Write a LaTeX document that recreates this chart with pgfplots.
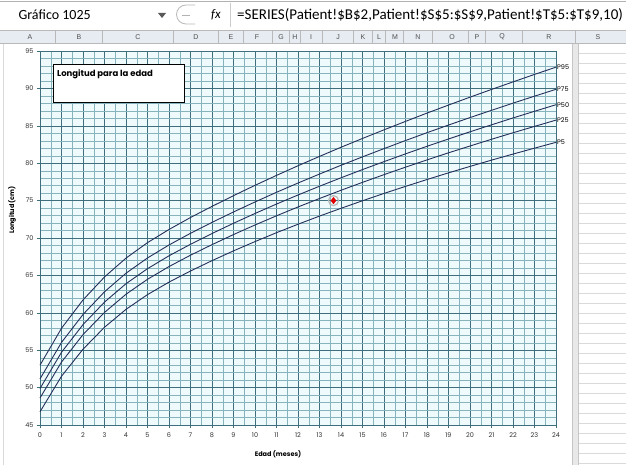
\documentclass[border=0pt]{standalone}
\usepackage{pgfplots}
\usepackage{pgfplotstable}
\pgfplotsset{compat=1.18}
\usepackage{fontspec}
\setmainfont{Poppins}
\newfontfamily\uifont{Carlito}
\newfontfamily\hdrfont{Liberation Sans}
\definecolor{bgc}{HTML}{EEFAFC}
\definecolor{gmaj}{HTML}{3F6F7D}
\definecolor{gmin}{HTML}{86B3BC}
\definecolor{curve}{HTML}{25305A}
\definecolor{hdrbg}{HTML}{E6ECF2}
\definecolor{hdrtx}{HTML}{505050}
\definecolor{sheet}{HTML}{DADADA}

\pgfplotstableread{
m p5 p25 p50 p75 p95
0 46.77 48.61 49.88 51.16 53.00
1 51.52 53.41 54.72 56.04 57.93
2 55.13 57.08 58.42 59.77 61.72
3 58.07 60.05 61.43 62.81 64.79
4 60.46 62.48 63.89 65.29 67.31
5 62.43 64.48 65.90 67.33 69.38
6 64.10 66.18 67.62 69.07 71.14
7 65.59 67.70 69.16 70.63 72.74
8 66.97 69.11 70.60 72.09 74.23
9 68.28 70.46 71.97 73.48 75.66
10 69.52 71.74 73.28 74.82 77.04
11 70.71 72.97 74.54 76.11 78.37
12 71.84 74.15 75.75 77.35 79.66
13 72.93 75.28 76.92 78.55 80.91
14 73.97 76.38 78.05 79.72 82.13
15 74.98 77.44 79.15 80.85 83.31
16 75.96 78.47 80.21 81.95 84.46
17 76.90 79.47 81.25 83.03 85.59
18 77.82 80.44 82.26 84.08 86.70
19 78.71 81.39 83.24 85.10 87.77
20 79.57 82.30 84.20 86.10 88.83
21 80.41 83.20 85.13 87.07 89.86
22 81.22 84.07 86.05 88.03 90.87
23 82.01 84.92 86.94 88.96 91.87
24 82.79 85.76 87.82 89.88 92.84
}\who

\begin{document}
\begin{tikzpicture}[x=1pt,y=1pt]
\useasboundingbox (0,0) rectangle (626,-465);
\fill[white] (0,0) rectangle (626,-465);
% ---- formula bar ----
\draw[gray!60] (0,-1) -- (626,-1);
\node[anchor=west,font=\uifont\fontsize{14}{16}\selectfont] at (15,-15) {Gráfico 1025};
\fill[gray!70!black] (158,-13) -- (166,-13) -- (162,-18) -- cycle;
\draw[gray!55, line width=0.8pt] (195,-5) -- (186,-5) arc (90:270:9.5) -- (195,-24);
\draw[gray!60] (182,-15) -- (190,-15);
\node[font=\uifont\itshape\fontsize{13}{15}\selectfont] at (216,-15) {fx};
\draw[gray!40] (230,-3) -- (230,-27);
\node[anchor=west,font=\uifont\fontsize{15}{17}\selectfont,inner sep=0pt] at (237,-15) {=SERIES(Patient!\$B\$2,Patient!\$S\$5:\$S\$9,Patient!\$T\$5:\$T\$9,10)};
% ---- column headers ----
\fill[hdrbg] (0,-30) rectangle (626,-43);
\draw[gray!55] (0,-30) -- (626,-30);
\draw[gray!55] (0,-43) -- (626,-43);
\foreach \sx in {55,102,173,218,243,272,289,300,322,353,372,385,403,432,468,485,522,575}
  \draw[gray!55] (\sx,-30) -- (\sx,-43);
\foreach \lx/\lt in {30/A,79/B,138/C,196/D,231/E,257/F,281/G,295/H,311/I,338/J,363/K,379/L,395/M,418/N,452/O,477/P,502/Q,549/R,598/S}
  \node[font=\hdrfont\fontsize{7}{8}\selectfont, text=hdrtx] at (\lx,-36.8) {\lt};
% ---- sheet on the right ----
\foreach \yy in {53,63,...,463}
  \draw[sheet,line width=0.5pt] (578,-\yy) -- (626,-\yy);
\fill[gray!18] (572,-44) rectangle (578,-465);
\draw[gray!45] (572,-44) -- (572,-465);
\draw[gray!45] (578,-44) -- (578,-465);
\draw[gray!30] (3,-44) -- (3,-465);
% ---- chart ----
\begin{axis}[
  at={(40pt,-425pt)}, anchor=south west,
  scale only axis, width=516pt, height=374pt,
  xmin=0, xmax=24, ymin=45, ymax=95,
  xtick={0,1,...,24}, ytick={45,50,...,95},
  minor x tick num=1, minor y tick num=4,
  grid=both,
  major grid style={gmaj, line width=0.6pt},
  minor grid style={gmin, line width=0.35pt},
  axis background/.style={fill=bgc},
  axis line style={gmaj, line width=0.7pt},
  tick align=outside, tick pos=left,
  major tick length=3pt, minor tick length=0pt,
  tick style={gmaj, line width=0.6pt},
  ticklabel style={font=\fontsize{6.5}{8}\selectfont, text=black!80},
  xticklabel style={yshift=-1pt},
  /pgf/number format/assume math mode=true,
  clip=false,
]
\addplot[curve, line width=0.9pt] table[x=m, y=p5] {\who};
\addplot[curve, line width=0.9pt] table[x=m, y=p25] {\who};
\addplot[curve, line width=0.9pt] table[x=m, y=p50] {\who};
\addplot[curve, line width=0.9pt] table[x=m, y=p75] {\who};
\addplot[curve, line width=0.9pt] table[x=m, y=p95] {\who};
\addplot[only marks, mark=o, mark size=5pt, color=gray!55, line width=1.2pt] coordinates {(13.65,75.0)};
\addplot[only marks, mark=diamond*, mark size=3.3pt, color=red!90!black] coordinates {(13.65,75.0)};
\node[anchor=west, font=\fontsize{6.5}{8}\selectfont, inner sep=1pt] at (axis cs:24,92.84) {P95};
\node[anchor=west, font=\fontsize{6.5}{8}\selectfont, inner sep=1pt] at (axis cs:24,89.88) {P75};
\node[anchor=west, font=\fontsize{6.5}{8}\selectfont, inner sep=1pt] at (axis cs:24,87.82) {P50};
\node[anchor=west, font=\fontsize{6.5}{8}\selectfont, inner sep=1pt] at (axis cs:24,85.76) {P25};
\node[anchor=west, font=\fontsize{6.5}{8}\selectfont, inner sep=1pt] at (axis cs:24,82.79) {P5};
\end{axis}
% title box
\draw[black, line width=0.9pt, fill=white] (53,-64) rectangle (184,-102);
\node[anchor=north west, font=\bfseries\fontsize{8.5}{10}\selectfont, inner sep=0pt] at (57,-69) {Longitud para la edad};
% axis titles
\node[font=\bfseries\fontsize{6.5}{8}\selectfont] at (278,-454) {Edad (meses)};
\node[rotate=90, font=\bfseries\fontsize{6.5}{8}\selectfont] at (12,-210) {Longitud (cm)};
\end{tikzpicture}
\end{document}
